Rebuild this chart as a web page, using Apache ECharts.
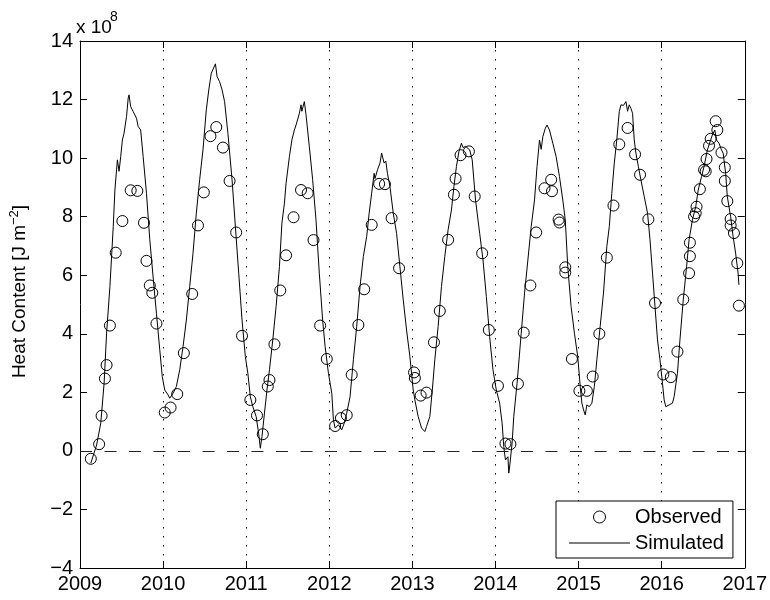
<!DOCTYPE html>
<html>
<head>
<meta charset="utf-8">
<title>Heat Content</title>
<script src="https://cdn.jsdelivr.net/npm/echarts@6/dist/echarts.min.js"></script>
<style>
  html, body { margin: 0; padding: 0; background: #fff; }
  #chart { width: 770px; height: 600px; }
</style>
</head>
<body>
<div id="chart"></div>
<script>
// Heat content, in units of 10^8 J m^-2, against decimal year.

// Observed profiles
const obsYear = [
  2009.13, 2009.23, 2009.26, 2009.30, 2009.32, 2009.36, 2009.43, 2009.51, 2009.61, 2009.69,
  2009.77, 2009.80, 2009.84, 2009.87, 2009.92, 2010.02, 2010.09, 2010.17, 2010.25, 2010.35,
  2010.42, 2010.49, 2010.57, 2010.64, 2010.72, 2010.80, 2010.88, 2010.95, 2011.05, 2011.13,
  2011.20, 2011.26, 2011.28, 2011.34, 2011.41, 2011.48, 2011.57, 2011.66, 2011.74, 2011.81,
  2011.89, 2011.97, 2012.07, 2012.14, 2012.21, 2012.27, 2012.35, 2012.42, 2012.51, 2012.60,
  2012.67, 2012.75, 2012.84, 2013.02, 2013.03, 2013.10, 2013.17, 2013.26, 2013.33, 2013.43,
  2013.50, 2013.52, 2013.58, 2013.68, 2013.75, 2013.84, 2013.92, 2014.03, 2014.12, 2014.18,
  2014.27, 2014.34, 2014.42, 2014.49, 2014.59, 2014.67, 2014.68, 2014.76, 2014.77, 2014.84,
  2014.84, 2014.92, 2015.01, 2015.10, 2015.17, 2015.25, 2015.34, 2015.42, 2015.49, 2015.59,
  2015.68, 2015.74, 2015.84, 2015.92, 2016.02, 2016.11, 2016.19, 2016.26, 2016.33, 2016.34,
  2016.34, 2016.39, 2016.41, 2016.42, 2016.46, 2016.51, 2016.53, 2016.54, 2016.57, 2016.59,
  2016.65, 2016.67, 2016.72, 2016.76, 2016.76, 2016.79, 2016.83, 2016.83, 2016.87, 2016.91,
  2016.93
];
const obsValue = [
  -0.27, 0.23, 1.20, 2.47, 2.93, 4.28, 6.77, 7.85, 8.90, 8.88,
  7.79, 6.49, 5.65, 5.40, 4.35, 1.31, 1.48, 1.94, 3.34, 5.36,
  7.70, 8.83, 10.75, 11.06, 10.36, 9.22, 7.46, 3.93, 1.74, 1.21,
  0.57, 2.20, 2.42, 3.64, 5.48, 6.68, 7.98, 8.91, 8.80, 7.20,
  4.28, 3.14, 0.85, 1.12, 1.22, 2.60, 4.30, 5.52, 7.72, 9.12,
  9.11, 7.95, 6.24, 2.68, 2.49, 1.89, 1.99, 3.71, 4.78, 7.21,
  8.75, 9.30, 10.10, 10.23, 8.69, 6.75, 4.13, 2.22, 0.25, 0.23,
  2.29, 4.04, 5.65, 7.46, 8.97, 9.26, 8.87, 7.90, 7.80, 6.27,
  6.09, 3.14, 2.05, 2.05, 2.54, 4.00, 6.60, 8.38, 10.47, 11.03,
  10.13, 9.43, 7.91, 5.05, 2.61, 2.52, 3.39, 5.17, 6.07, 6.65,
  7.11, 8.00, 8.12, 8.34, 8.94, 9.60, 9.55, 9.97, 10.42, 10.66,
  11.26, 10.96, 10.19, 9.68, 9.22, 8.53, 7.92, 7.70, 7.44, 6.41,
  4.96
];

// Simulated series
const simYear = [
  2009.13, 2009.20, 2009.25, 2009.29, 2009.32, 2009.36, 2009.40, 2009.42, 2009.44, 2009.45,
  2009.47, 2009.49, 2009.51, 2009.53, 2009.56, 2009.58, 2009.59, 2009.61, 2009.64, 2009.68,
  2009.70, 2009.73, 2009.76, 2009.80, 2009.84, 2009.89, 2009.92, 2009.96, 2009.99, 2010.02,
  2010.06, 2010.08, 2010.12, 2010.16, 2010.20, 2010.24, 2010.28, 2010.32, 2010.36, 2010.40,
  2010.44, 2010.48, 2010.52, 2010.55, 2010.58, 2010.60, 2010.63, 2010.65, 2010.68, 2010.71,
  2010.74, 2010.78, 2010.83, 2010.87, 2010.91, 2010.95, 2010.99, 2011.02, 2011.05, 2011.08,
  2011.12, 2011.15, 2011.17, 2011.19, 2011.22, 2011.25, 2011.28, 2011.32, 2011.36, 2011.40,
  2011.43, 2011.46, 2011.48, 2011.52, 2011.55, 2011.58, 2011.60, 2011.64, 2011.66, 2011.67,
  2011.70, 2011.72, 2011.76, 2011.80, 2011.84, 2011.88, 2011.92, 2011.95, 2011.99, 2012.03,
  2012.05, 2012.07, 2012.11, 2012.15, 2012.18, 2012.21, 2012.25, 2012.29, 2012.33, 2012.37,
  2012.41, 2012.45, 2012.48, 2012.51, 2012.54, 2012.55, 2012.58, 2012.61, 2012.63, 2012.66,
  2012.68, 2012.70, 2012.73, 2012.77, 2012.81, 2012.85, 2012.89, 2012.93, 2012.97, 2013.01,
  2013.03, 2013.07, 2013.11, 2013.15, 2013.17, 2013.21, 2013.24, 2013.27, 2013.31, 2013.35,
  2013.39, 2013.43, 2013.47, 2013.50, 2013.53, 2013.56, 2013.59, 2013.61, 2013.64, 2013.69,
  2013.72, 2013.76, 2013.81, 2013.85, 2013.89, 2013.93, 2013.97, 2014.01, 2014.05, 2014.08,
  2014.10, 2014.12, 2014.15, 2014.16, 2014.17, 2014.20, 2014.22, 2014.26, 2014.31, 2014.35,
  2014.39, 2014.43, 2014.47, 2014.50, 2014.53, 2014.55, 2014.57, 2014.60, 2014.62, 2014.65,
  2014.69, 2014.73, 2014.77, 2014.81, 2014.84, 2014.87, 2014.91, 2014.95, 2014.99, 2015.02,
  2015.04, 2015.06, 2015.08, 2015.10, 2015.13, 2015.16, 2015.19, 2015.22, 2015.26, 2015.30,
  2015.34, 2015.37, 2015.40, 2015.43, 2015.46, 2015.49, 2015.51, 2015.52, 2015.54, 2015.57,
  2015.59, 2015.61, 2015.63, 2015.65, 2015.67, 2015.69, 2015.72, 2015.75, 2015.79, 2015.83,
  2015.86, 2015.89, 2015.92, 2015.95, 2015.98, 2016.01, 2016.03, 2016.05, 2016.09, 2016.13,
  2016.15, 2016.19, 2016.22, 2016.26, 2016.30, 2016.33, 2016.37, 2016.41, 2016.44, 2016.46,
  2016.48, 2016.51, 2016.55, 2016.59, 2016.61, 2016.64, 2016.66, 2016.69, 2016.72, 2016.74,
  2016.77, 2016.79, 2016.83, 2016.86, 2016.89, 2016.92, 2016.93
];
const simValue = [
  -0.42, 0.20, 0.95, 2.31, 4.02, 5.61, 7.66, 8.91, 9.60, 9.94,
  9.55, 10.05, 10.62, 10.85, 11.42, 12.05, 12.16, 11.76, 11.59, 11.36,
  11.08, 10.96, 10.05, 8.80, 7.21, 5.61, 4.70, 3.45, 2.54, 2.08,
  1.91, 1.80, 1.97, 2.20, 2.77, 3.56, 4.47, 5.61, 6.75, 8.12,
  9.26, 10.28, 11.65, 12.33, 12.90, 12.95, 13.22, 12.78, 12.61, 12.33,
  11.93, 10.85, 9.26, 7.66, 6.07, 4.47, 3.22, 2.65, 1.85, 1.51,
  1.17, 0.60, 0.09, 0.49, 1.29, 2.08, 2.77, 3.79, 4.93, 6.29,
  7.78, 8.46, 9.14, 10.05, 10.62, 10.96, 11.13, 11.53, 11.82, 11.60,
  11.93, 11.48, 10.39, 9.26, 7.89, 6.07, 4.47, 3.56, 2.65, 1.97,
  1.06, 0.78, 0.89, 0.72, 0.95, 1.29, 1.85, 3.11, 4.25, 5.61,
  6.64, 7.32, 8.12, 8.80, 9.48, 9.30, 9.60, 9.83, 10.17, 9.83,
  9.90, 9.48, 9.03, 8.12, 7.43, 6.29, 5.16, 4.13, 3.22, 2.08,
  1.74, 1.17, 0.78, 0.66, 0.83, 1.17, 2.08, 3.11, 4.25, 5.61,
  6.64, 7.55, 8.23, 9.03, 9.71, 10.22, 10.51, 10.36, 10.40, 10.28,
  9.94, 8.57, 7.43, 6.52, 5.27, 3.90, 2.77, 2.08, 1.63, 0.95,
  0.15, -0.31, -0.20, -0.76, -0.55, 0.26, 1.17, 2.31, 4.02, 5.39,
  6.52, 7.66, 8.57, 9.71, 10.62, 10.30, 10.73, 11.02, 11.13, 10.96,
  10.51, 10.05, 9.37, 8.57, 7.89, 6.29, 4.93, 4.02, 3.22, 2.20,
  1.63, 1.40, 1.23, 1.57, 1.51, 1.63, 2.20, 3.11, 4.25, 5.39,
  6.98, 7.66, 8.80, 9.83, 10.62, 11.59, 11.82, 11.85, 11.80, 11.93,
  11.60, 11.82, 11.70, 11.53, 10.62, 10.17, 9.71, 9.26, 8.69, 8.12,
  7.21, 6.07, 4.93, 3.79, 3.11, 2.31, 1.74, 1.51, 1.57, 1.63,
  1.85, 2.65, 3.79, 5.16, 6.29, 7.21, 7.89, 8.34, 8.91, 8.90,
  9.37, 9.71, 10.28, 10.62, 10.79, 10.96, 10.62, 10.51, 10.28, 10.17,
  9.48, 8.69, 8.00, 7.32, 6.75, 6.07, 5.67
];

// Axis ranges and ticks
const yearMin = 2009, yearMax = 2017, yearStep = 1;
const valueMin = -4, valueMax = 14, valueStep = 2;

const FONT = '"Liberation Sans", Arial, Helvetica, sans-serif';
const minusSign = v => String(v).replace('-', '\u2212');

const chart = echarts.init(document.getElementById('chart'), null, { renderer: 'canvas' });

const inTick = { show: true, inside: true, length: 7, lineStyle: { color: '#000', width: 1 } };
const axisLine = { show: true, onZero: false, lineStyle: { color: '#000', width: 1 } };

chart.setOption({
  animation: false,
  backgroundColor: '#fff',
  grid: { left: 76, right: 25, top: 41, bottom: 32, containLabel: false },
  xAxis: [
    {
      type: 'value', min: yearMin, max: yearMax, interval: yearStep,
      axisLine: axisLine, axisTick: inTick,
      axisLabel: { color: '#000', fontSize: 20, fontFamily: FONT, margin: 6, formatter: v => String(v) },
      splitLine: { show: true, lineStyle: { color: '#000', width: 1, type: [1.5, 7.5] } }
    },
    {
      type: 'value', position: 'top', min: yearMin, max: yearMax, interval: yearStep,
      axisLine: axisLine, axisTick: inTick, axisLabel: { show: false }, splitLine: { show: false }
    }
  ],
  yAxis: [
    {
      type: 'value', min: valueMin, max: valueMax, interval: valueStep,
      axisLine: axisLine, axisTick: inTick,
      axisLabel: { color: '#000', fontSize: 20, fontFamily: FONT, margin: 7, formatter: minusSign },
      splitLine: { show: false },
      name: '{a|Heat Content [J m}{s|\u22122}{a|]}',
      nameLocation: 'middle',
      nameGap: 48,
      nameTextStyle: {
        padding: [0, 0, 0, 26],
        rich: {
          a: { fontSize: 19, fontFamily: FONT, color: '#000', lineHeight: 24 },
          s: { fontSize: 13, fontFamily: FONT, color: '#000', lineHeight: 13, verticalAlign: 'top' }
        }
      }
    },
    {
      type: 'value', position: 'right', min: valueMin, max: valueMax, interval: valueStep,
      axisLine: axisLine, axisTick: inTick, axisLabel: { show: false }, splitLine: { show: false }
    }
  ],
  legend: {
    orient: 'vertical',
    left: 556, top: 501,
    padding: [6, 9, 5, 13],
    borderColor: '#000', borderWidth: 1, backgroundColor: '#fff',
    itemWidth: 61, itemHeight: 12, itemGap: 6,
    selectedMode: false,
    textStyle: { fontSize: 20, fontFamily: FONT, color: '#000', lineHeight: 20 },
    data: [
      {
        name: 'Observed',
        icon: 'circle',
        itemStyle: { color: 'rgba(0,0,0,0)', borderColor: '#000', borderWidth: 1 }
      },
      {
        name: 'Simulated',
        icon: 'path://M0,0L61,0L61,1L0,1Z',
        itemStyle: { color: '#000', borderWidth: 0 }
      }
    ]
  },
  graphic: [
    { type: 'text', left: 76, top: 18, style: { text: 'x 10', fontSize: 19, fontFamily: FONT, fill: '#000' } },
    { type: 'text', left: 110, top: 10, style: { text: '8', fontSize: 14, fontFamily: FONT, fill: '#000' } }
  ],
  series: [
    {
      name: 'Simulated',
      type: 'line',
      data: simYear.map((y, i) => [y, simValue[i]]),
      symbol: 'none',
      lineStyle: { color: '#000', width: 1 },
      itemStyle: { color: '#000' },
      z: 2,
      silent: true,
      markLine: {
        silent: true,
        symbol: 'none',
        label: { show: false },
        lineStyle: { color: '#222', width: 1, type: [12, 12.5] },
        data: [{ yAxis: 0 }]
      }
    },
    {
      name: 'Observed',
      type: 'scatter',
      data: obsYear.map((y, i) => [y, obsValue[i]]),
      symbol: 'circle',
      symbolSize: 11,
      itemStyle: { color: 'rgba(0,0,0,0)', borderColor: '#000', borderWidth: 1, opacity: 1 },
      z: 3,
      silent: true
    }
  ]
});
</script>
</body>
</html>
